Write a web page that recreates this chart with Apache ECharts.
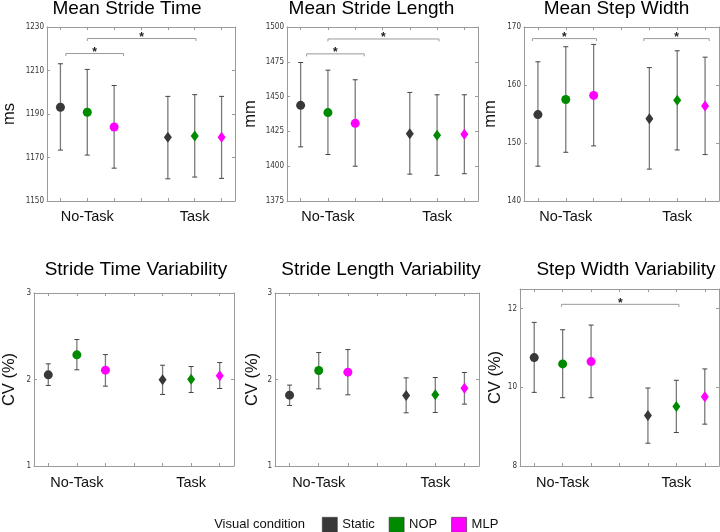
<!DOCTYPE html>
<html><head><meta charset="utf-8">
<script src="https://cdn.jsdelivr.net/npm/echarts@6/dist/echarts.min.js"></script>
<style>html,body{margin:0;padding:0;background:#fff}#c{width:720px;height:532px}</style>
</head><body><div id="c"></div>
<script>
// ---------- data ----------
const conditions = ['Static', 'NOP', 'MLP'];
const categories = ['No-Task', 'Task'];
const titles = ['Mean Stride Time', 'Mean Stride Length', 'Mean Step Width',
  'Stride Time Variability', 'Stride Length Variability', 'Step Width Variability'];
const yNames = ['ms', 'mm', 'mm', 'CV (%)', 'CV (%)', 'CV (%)'];
const yTicks1 = [1150, 1170, 1190, 1210, 1230];
const yTicks2 = [1375, 1400, 1425, 1450, 1475, 1500];
const yTicks3 = [140, 150, 160, 170];
const yTicks4 = [1, 2, 3];
const yTicks5 = [1, 2, 3];
const yTicks6 = [8, 10, 12];
const yRange6 = [8, 12.5];

// rows = conditions (Static, NOP, MLP); columns = categories (No-Task, Task)
const strideTimeMean = [[1193.1, 1179.3], [1190.8, 1179.9], [1184.0, 1179.3]];
const strideTimeLow  = [[1173.4, 1160.2], [1171.1, 1161.0], [1165.1, 1160.4]];
const strideTimeHigh = [[1213.1, 1198.1], [1210.5, 1198.9], [1203.1, 1198.1]];
const strideTimeSig  = [[1.2, 3.35, 1217.8], [2.0, 6.05, 1224.7]];

const strideLenMean = [[1443.7, 1423.4], [1438.5, 1422.2], [1430.8, 1423.0]];
const strideLenLow  = [[1413.9, 1394.3], [1408.4, 1393.4], [1400.0, 1394.6]];
const strideLenHigh = [[1474.5, 1453.0], [1469.0, 1451.3], [1462.1, 1451.3]];
const strideLenSig  = [[1.22, 3.33, 1480.7], [2.0, 6.07, 1491.4]];

const stepWidthMean = [[154.9, 154.2], [157.5, 157.35], [158.2, 156.4]];
const stepWidthLow  = [[146.0, 145.5], [148.4, 148.8], [149.5, 148.0]];
const stepWidthHigh = [[164.0, 163.0], [166.6, 165.9], [167.0, 164.8]];
const stepWidthSig  = [[0.8, 3.1, 168.0], [4.8, 7.15, 168.0]];

const strideTimeCvMean = [[2.054, 1.996], [2.285, 2.004], [2.108, 2.042]];
const strideTimeCvLow  = [[1.931, 1.827], [2.112, 1.850], [1.923, 1.896]];
const strideTimeCvHigh = [[2.181, 2.165], [2.462, 2.150], [2.288, 2.196]];
const strideTimeCvSig  = [];

const strideLenCvMean = [[1.819, 1.815], [2.104, 1.823], [2.085, 1.900]];
const strideLenCvLow  = [[1.700, 1.615], [1.892, 1.619], [1.823, 1.715]];
const strideLenCvHigh = [[1.935, 2.019], [2.312, 2.023], [2.346, 2.081]];
const strideLenCvSig  = [];

const stepWidthCvMean = [[10.757, 9.285], [10.596, 9.515], [10.655, 9.762]];
const stepWidthCvLow  = [[9.872, 8.579], [9.736, 8.851], [9.736, 9.064]];
const stepWidthCvHigh = [[11.651, 9.983], [11.464, 10.179], [11.583, 10.468]];
const stepWidthCvSig  = [[1.96, 6.09, 12.11]];

// ---------- assembly ----------
const panelData = [
  {ticks: yTicks1, mean: strideTimeMean, low: strideTimeLow, high: strideTimeHigh, sig: strideTimeSig},
  {ticks: yTicks2, mean: strideLenMean, low: strideLenLow, high: strideLenHigh, sig: strideLenSig},
  {ticks: yTicks3, mean: stepWidthMean, low: stepWidthLow, high: stepWidthHigh, sig: stepWidthSig},
  {ticks: yTicks4, mean: strideTimeCvMean, low: strideTimeCvLow, high: strideTimeCvHigh, sig: strideTimeCvSig},
  {ticks: yTicks5, mean: strideLenCvMean, low: strideLenCvLow, high: strideLenCvHigh, sig: strideLenCvSig},
  {ticks: yTicks6, mean: stepWidthCvMean, low: stepWidthCvLow, high: stepWidthCvHigh, sig: stepWidthCvSig, range: yRange6}
];

const FONT = '"Liberation Sans", Arial, sans-serif';
const NARROW = '"Liberation Sans Narrow", "DejaVu Sans Condensed", sans-serif';
const colors = ['#383838', '#008a00', '#ff00ff'];
const grids = [
  {left: 44, top: 27, width: 191, height: 174},
  {left: 287, top: 27, width: 191, height: 174},
  {left: 524, top: 27, width: 195, height: 174},
  {left: 31, top: 293, width: 203, height: 173},
  {left: 275, top: 293, width: 204, height: 173},
  {left: 520, top: 289, width: 199, height: 177}
];
const nameGaps = [29, 28, 25, 16, 14, 16];
const labelMargins = [8, 8, 8, 9, 9, 9];
const titlePos = [[127, 8.5], [371.5, 8.5], [616.5, 8.5], [136, 270], [381, 270], [626, 270]];
const slots = [1, 2, 3, 4, 5, 6, 7];
const slotOf = (ci, ki) => ki * 4 + ci + 1;
const axisGray = '#9a9a9a';

const xAxes = [], yAxes = [], series = [], graphics = [];
panelData.forEach((p, i) => {
  const yMin = p.range ? p.range[0] : p.ticks[0];
  const yMax = p.range ? p.range[1] : p.ticks[p.ticks.length - 1];
  const lineStyle = {color: axisGray, width: 1};
  xAxes.push({
    type: 'value', gridIndex: i, min: 0.5, max: 7.5, position: 'bottom',
    axisLine: {show: true, lineStyle},
    axisTick: {show: true, inside: true, length: 3, customValues: slots, lineStyle},
    axisLabel: {show: true, customValues: [2, 6], margin: labelMargins[i],
      formatter: v => categories[Math.round((v - 2) / 4)],
      fontFamily: FONT, fontSize: 14.5, color: '#111'},
    splitLine: {show: false}
  });
  xAxes.push({
    type: 'value', gridIndex: i, min: 0.5, max: 7.5, position: 'top',
    axisLine: {show: true, lineStyle},
    axisTick: {show: true, inside: true, length: 3, customValues: slots, lineStyle},
    axisLabel: {show: false}, splitLine: {show: false}
  });
  yAxes.push({
    type: 'value', gridIndex: i, min: yMin, max: yMax, position: 'left',
    name: yNames[i], nameLocation: 'middle', nameGap: nameGaps[i],
    nameTextStyle: {fontFamily: FONT, fontSize: 16.5, color: '#111'},
    axisLine: {show: true, lineStyle},
    axisTick: {show: true, inside: true, length: 3, customValues: p.ticks, lineStyle},
    axisLabel: {show: true, customValues: p.ticks, margin: 3, formatter: v => String(v),
      fontFamily: NARROW, fontSize: 8, color: '#333'},
    splitLine: {show: false}
  });
  yAxes.push({
    type: 'value', gridIndex: i, min: yMin, max: yMax, position: 'right',
    axisLine: {show: true, lineStyle},
    axisTick: {show: true, inside: true, length: 3, customValues: p.ticks, lineStyle},
    axisLabel: {show: false}, splitLine: {show: false}
  });
  const xi = i * 2, yi = i * 2;

  // error bars
  const errData = [];
  conditions.forEach((c, ci) => categories.forEach((k, ki) => {
    errData.push([slotOf(ci, ki), p.low[ci][ki], p.high[ci][ki]]);
  }));
  series.push({
    type: 'custom', xAxisIndex: xi, yAxisIndex: yi, z: 2, silent: true,
    encode: {x: 0, y: [1, 2]}, data: errData,
    renderItem: (params, api) => {
      const x = api.value(0);
      const a = api.coord([x, api.value(1)]), b = api.coord([x, api.value(2)]);
      const hw = 2.5;
      return {type: 'group', children: [
        {type: 'line', shape: {x1: a[0], y1: a[1], x2: b[0], y2: b[1]}, style: {stroke: '#7a7a7a', lineWidth: 1.3}},
        {type: 'line', shape: {x1: a[0] - hw, y1: a[1], x2: a[0] + hw, y2: a[1]}, style: {stroke: '#444', lineWidth: 1}},
        {type: 'line', shape: {x1: b[0] - hw, y1: b[1], x2: b[0] + hw, y2: b[1]}, style: {stroke: '#444', lineWidth: 1}}
      ]};
    }
  });

  // significance brackets
  if (p.sig.length) {
    series.push({
      type: 'custom', xAxisIndex: xi, yAxisIndex: yi, z: 2, silent: true,
      encode: {x: [0, 1], y: 2}, data: p.sig,
      renderItem: (params, api) => {
        const y = api.value(2);
        const a = api.coord([api.value(0), y]), b = api.coord([api.value(1), y]);
        return {type: 'group', children: [
          {type: 'polyline', shape: {points: [[a[0], a[1] + 2.5], a, b, [b[0], b[1] + 2.5]]},
            style: {stroke: '#9a9a9a', lineWidth: 1, fill: null}},
          {type: 'text', x: (a[0] + b[0]) / 2, y: a[1] - 1,
            style: {text: '*', fill: '#222', font: 'bold 12px ' + FONT, align: 'center', verticalAlign: 'middle'}}
        ]};
      }
    });
  }

  // points
  conditions.forEach((c, ci) => {
    series.push({
      type: 'scatter', name: c, xAxisIndex: xi, yAxisIndex: yi, z: 3,
      itemStyle: {color: colors[ci], opacity: 1},
      symbol: v => v[0] > 4 ? 'diamond' : 'circle',
      symbolSize: v => v[0] > 4 ? [8, 11] : 9,
      data: categories.map((k, ki) => [slotOf(ci, ki), p.mean[ci][ki]])
    });
  });

  graphics.push({type: 'text', x: titlePos[i][0], y: titlePos[i][1],
    style: {text: titles[i], fill: '#000', font: '19px ' + FONT, align: 'center', verticalAlign: 'middle'}});
});

graphics.push({type: 'text', x: 305, y: 524.5,
  style: {text: 'Visual condition', fill: '#111', font: '13px ' + FONT, align: 'right', verticalAlign: 'middle'}});

const chart = echarts.init(document.getElementById('c'), null, {renderer: 'canvas'});
chart.setOption({
  animation: false,
  backgroundColor: '#fff',
  grid: grids.map(g => Object.assign({containLabel: false}, g)),
  xAxis: xAxes,
  yAxis: yAxes,
  series: series,
  legend: {
    left: 322, top: 517, padding: 0, itemWidth: 15, itemHeight: 15, itemGap: 14, icon: 'rect',
    selectedMode: false, data: conditions,
    itemStyle: {borderColor: '#333', borderWidth: 0.6},
    textStyle: {fontFamily: FONT, fontSize: 13, color: '#111'}
  },
  graphic: graphics
});
</script>
</body></html>
